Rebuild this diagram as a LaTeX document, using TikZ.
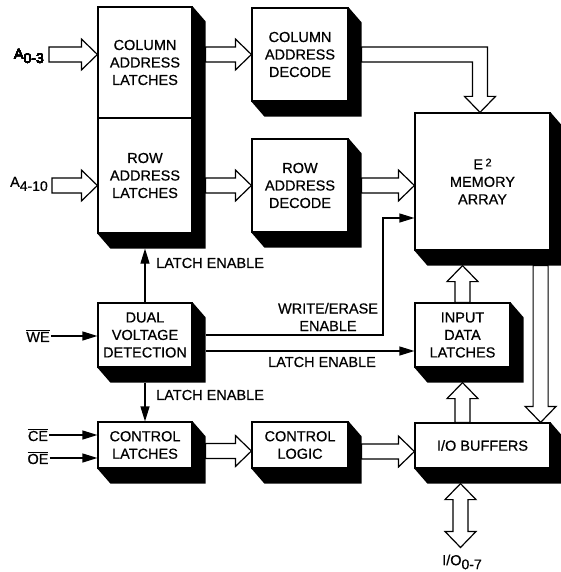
\documentclass[tikz,border=0pt]{standalone}
\usepackage{fontspec}
\setmainfont{Liberation Sans}[FakeBold=0.6]
\usetikzlibrary{arrows.meta,calc}

\tikzset{
  blk/.style={draw,line width=1.2pt,fill=white,align=center,inner sep=0pt,
    font=\fontsize{14.5}{17.5}\selectfont},
  lbl/.style={font=\fontsize{14.5}{17.5}\selectfont,inner sep=1pt,align=center},
  sig/.style={line width=1.2pt,line join=miter,-{Triangle[length=15pt,width=9pt]}},
  bus/.style={draw,line width=1.2pt,fill=white,line join=miter}
}
\newcommand\lowsub[1]{\raisebox{-4pt}{\fontsize{14}{14}\selectfont #1}}
% black extruded shadow of a box (top node, bottom node)
\newcommand\blkshade[2]{\fill (#1.north east) -- ([shift={(13,15)}]#1.north east)
  -- ([shift={(13,15)}]#2.south east) -- ([shift={(13,15)}]#2.south west)
  -- (#2.south west) -- (#2.south east) -- cycle;}
% wide bus arrow to the right: tail x from #1, tip at #2
\newcommand\hbus[2]{\path[bus] let \p1=#1, \p2=#2 in
  (\x1,\y2+7.5pt) -- (\x2-16pt,\y2+7.5pt) -- (\x2-16pt,\y2+15.5pt) -- (\x2,\y2)
  -- (\x2-16pt,\y2-15.5pt) -- (\x2-16pt,\y2-7.5pt) -- (\x1,\y2-7.5pt) -- cycle;}
% wide bus arrow up or down: x and tail from #1, tip y from #2
\newcommand\vbus[2]{\path[bus] let \p1=#1, \p2=#2,
  \n2={\y2-ifthenelse(\y2>\y1,16pt,-16pt)} in
  (\x1+7.5pt,\y1) -- (\x1+7.5pt,{\n2*1pt}) -- (\x1+15.5pt,{\n2*1pt}) -- (\x1,\y2)
  -- (\x1-15.5pt,{\n2*1pt}) -- (\x1-7.5pt,{\n2*1pt}) -- (\x1-7.5pt,\y1) -- cycle;}

\begin{document}
\begin{tikzpicture}[x=1pt,y=-1pt]
  \useasboundingbox (0,0) rectangle (561,572);
  % blocks
  \node[blk,minimum width=94,minimum height=111] (collatch) at (145,62.5) {COLUMN\\ADDRESS\\LATCHES};
  \node[blk,minimum width=94,minimum height=115] (rowlatch) at (145,175.5) {ROW\\ADDRESS\\LATCHES};
  \node[blk,minimum width=96,minimum height=93] (coldec) at (300,54.5) {COLUMN\\ADDRESS\\DECODE};
  \node[blk,minimum width=96,minimum height=93] (rowdec) at (300,185.5) {ROW\\ADDRESS\\DECODE};
  \node[blk,minimum width=135,minimum height=137] (memarr) at (482.5,181.5)
    {E\,\raisebox{3pt}{\fontsize{11}{11}\selectfont 2}\\MEMORY\\ARRAY};
  \node[blk,minimum width=94,minimum height=64] (dualv) at (145,335) {DUAL\\VOLTAGE\\DETECTION};
  \node[blk,minimum width=95,minimum height=64] (inlatch) at (462.5,335) {INPUT\\DATA\\LATCHES};
  \node[blk,minimum width=94,minimum height=46] (ctllatch) at (145,445) {CONTROL\\LATCHES};
  \node[blk,minimum width=96,minimum height=46] (ctllogic) at (300,445) {CONTROL\\LOGIC};
  \node[blk,minimum width=135,minimum height=45] (iobuf) at (482.5,445.5) {I/O BUFFERS};
  % shadows
  \blkshade{collatch}{rowlatch}
  \foreach \b in {coldec,rowdec,memarr,dualv,inlatch,ctllatch,ctllogic,iobuf}
    \blkshade{\b}{\b}
  % pin labels
  \node[lbl,anchor=east] (a03) at (45,56) {A\lowsub{0-3}};
  \node[lbl,anchor=east] (a410) at (49,184) {A\lowsub{4-10}};
  \node[lbl] (we) at (38,336) {$\overline{\mbox{WE}}$};
  \node[lbl] (ce) at (38,435) {$\overline{\mbox{CE}}$};
  \node[lbl] (oe) at (38,458) {$\overline{\mbox{OE}}$};
  \node[lbl] (iolabel) at (462,562) {I/O\lowsub{0-7}};
  % signal labels
  \node[lbl,anchor=west] (leup) at (155,263) {LATCH ENABLE};
  \node[lbl,anchor=west] (ledown) at (155,395) {LATCH ENABLE};
  \node[lbl] (ween) at (328,317) {WRITE/ERASE\\ENABLE};
  \node[lbl] (lemid) at (322,362) {LATCH ENABLE};
  % wide buses
  \hbus{([xshift=4pt]a03.east)}{(collatch.west |- coldec)}
  \hbus{([xshift=3pt]a410.east)}{(rowlatch.west |- rowdec)}
  \hbus{([xshift=13pt]collatch.east)}{(coldec.west)}
  \hbus{([xshift=13pt]rowlatch.east)}{(rowdec.west)}
  \hbus{([xshift=13pt]rowdec.east)}{(memarr.west |- rowdec)}
  \hbus{([xshift=13pt]ctllatch.east)}{([shift={(0,6)}]ctllogic.west)}
  \hbus{([xshift=13pt]ctllogic.east)}{([shift={(0,6)}]iobuf.west)}
  \vbus{(inlatch.north)}{([shift={(0,15)}]memarr.south)}
  \vbus{(iobuf.north -| inlatch.north)}{([shift={(0,15)}]inlatch.south)}
  \vbus{([shift={(-10,15)}]memarr.south east)}{(iobuf.north)}
  % column decode to array (elbow)
  \path[bus] let \p1=([xshift=13pt]coldec.east), \p2=([xshift=-2.5pt]memarr.north) in
    (\x1,\y1+7.5pt) -- (\x2+7.5pt,\y1+7.5pt) -- (\x2+7.5pt,\y2+16pt) -- (\x2+15.5pt,\y2+16pt)
    -- (\x2,\y2) -- (\x2-15.5pt,\y2+16pt) -- (\x2-7.5pt,\y2+16pt) -- (\x2-7.5pt,\y1-7.5pt)
    -- (\x1,\y1-7.5pt) -- cycle;
  % data in/out
  \path[bus] let \p1=([shift={(-22,15)}]iobuf.south), \p2=([shift={(0,-6)}]iolabel.north) in
    (\x1,\y1) -- (\x1+15.5pt,\y1-16pt) -- (\x1+7.5pt,\y1-16pt) -- (\x1+7.5pt,\y2+16pt)
    -- (\x1+15.5pt,\y2+16pt) -- (\x1,\y2) -- (\x1-15.5pt,\y2+16pt) -- (\x1-7.5pt,\y2+16pt)
    -- (\x1-7.5pt,\y1-16pt) -- (\x1-15.5pt,\y1-16pt) -- cycle;
  % control signals
  \draw[sig] (we.east) -- (we.east -| dualv.west);
  \draw[sig] (ce.east) -- (ce.east -| ctllatch.west);
  \draw[sig] (oe.east) -- (oe.east -| ctllatch.west);
  \draw[sig] (dualv.north) -- ([shift={(0,15)}]rowlatch.south);
  \draw[sig] ([shift={(0,15)}]dualv.south) -- (ctllatch.north);
  \coordinate (weturn) at (383,218);
  \draw[sig] ([xshift=13pt]dualv.east) -| (weturn) -- (weturn -| memarr.west);
  \coordinate (letap) at ([shift={(13,16)}]dualv.east);
  \draw[sig] (letap) -- (letap -| inlatch.west);
\end{tikzpicture}
\end{document}
